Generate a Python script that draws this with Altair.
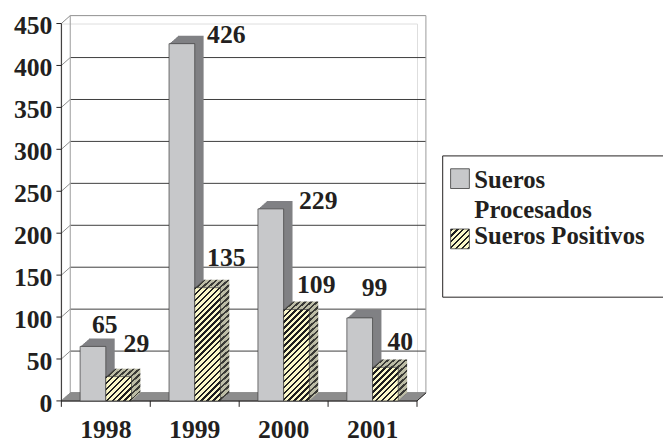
import altair as alt
import pandas as pd

# ---------------- data ----------------
years = ["1998", "1999", "2000", "2001"]
procesados = [65, 426, 229, 99]
positivos = [29, 135, 109, 40]
y_ticks = [0, 50, 100, 150, 200, 250, 300, 350, 400, 450]
series_names = ["Sueros Procesados", "Sueros Positivos"]

# ---------------- layout / style ----------------
W, H = 360, 382
YMAX = 450
DX, DY = 9, 8          # 3-D depth offset
NSTEP = 9
BAR = 26
BAND = W / len(years)
FONT = "Liberation Serif"
FS = 26
LFS = 25
INK = "#231f20"
GRAY_FRONT = "#c7c8ca"
GRAY_SIDE = "#808184"
HATCH_BASE = "#fbf8c9"
HATCH_SIDE = "#bdbda6"
FLOOR = "#8c8c8c"

# label nudges (dx from band centre, dy from bar top)
nudge_proc = {"1998": (-1, -14), "1999": (32, -1), "2000": (35, 0), "2001": (2, -22)}
nudge_pos = {"1998": (31, -25), "1999": (32, -22), "2000": (33, -17), "2001": (28, -18)}

xs = alt.Scale(domain=years, paddingInner=0, paddingOuter=0)
ys = alt.Scale(domain=[0, YMAX], nice=False, zero=True)

df_proc = pd.DataFrame({"year": years, "value": procesados})
df_pos = pd.DataFrame({"year": years, "value": positivos})
df_ticks = pd.DataFrame({"v": y_ticks})
df_grid = pd.DataFrame({"v": y_ticks[:-1]})
df_top = pd.DataFrame({"v": y_ticks[-1:]})
df_zero = pd.DataFrame({"v": [y_ticks[0]], "top": [y_ticks[-1]]})


def hatch(w, h, base, line, period=6.0, frac=0.42):
    L = w * w + h * h
    total = w + h
    def t(s):
        return max(0.0, min(1.0, s * w / L))
    stops = []
    n = 0
    while n * period < total + period:
        s0 = n * period
        s1 = s0 + frac * period
        s2 = s0 + period
        stops += [(t(s0), line), (t(s1), line), (t(s1), base), (t(s2), base)]
        n += 1
    return alt.LinearGradient(
        gradient="linear",
        stops=[alt.GradientStop(color=c, offset=o) for o, c in stops],
        x1=0, y1=0, x2=1, y2=h / w,
    )


YQ = alt.Y("v:Q", scale=ys, axis=None)
XB = alt.X("year:N", scale=xs, axis=None)
YB = alt.Y("value:Q", scale=ys, axis=None)
layers = []

# back wall grid lines
layers.append(
    alt.Chart(df_grid).mark_rule(color="#3c3c3c", strokeWidth=1, yOffset=-DY).encode(
        y=YQ, x=alt.value(DX), x2=alt.value(W + DX)
    )
)
layers.append(
    alt.Chart(df_top).mark_rule(color="#8f8f8f", strokeWidth=1, yOffset=-DY).encode(
        y=YQ, x=alt.value(DX), x2=alt.value(W + DX)
    )
)
# side wall diagonals
layers.append(
    alt.Chart(df_ticks).mark_rule(color="#8a8a8a", strokeWidth=1, y2Offset=-DY).encode(
        y=YQ, y2="v:Q", x=alt.value(0), x2=alt.value(DX)
    )
)
# back wall vertical edges
for xv in (DX, W + DX):
    layers.append(
        alt.Chart(df_zero).mark_rule(color="#9a9a9a", strokeWidth=1, yOffset=-DY, y2Offset=-DY).encode(
            y=YQ, y2="top:Q", x=alt.value(xv)
        )
    )
# floor
for k in range(NSTEP + 1):
    off = k / NSTEP
    layers.append(
        alt.Chart(df_zero).mark_rule(color=FLOOR, strokeWidth=1.6, yOffset=-DY * off).encode(
            y=YQ, x=alt.value(DX * off), x2=alt.value(W + DX * off)
        )
    )
layers.append(
    alt.Chart(df_zero).mark_rule(color=INK, strokeWidth=1).encode(
        y=YQ, x=alt.value(0), x2=alt.value(W)
    )
)
layers.append(
    alt.Chart(df_zero).mark_rule(color=INK, strokeWidth=1, y2Offset=-DY).encode(
        y=YQ, y2="v:Q", x=alt.value(W), x2=alt.value(W + DX)
    )
)
# category ticks at band edges
layers.append(
    alt.Chart(df_proc).mark_rule(color=INK, strokeWidth=1, xOffset=-BAND / 2).encode(
        x=XB, y=alt.value(H), y2=alt.value(H + 6)
    )
)
layers.append(
    alt.Chart(df_proc.tail(1)).mark_rule(color=INK, strokeWidth=1, xOffset=BAND / 2).encode(
        x=XB, y=alt.value(H), y2=alt.value(H + 6)
    )
)

# y axis (front), drawn from the tick values through the y scale
layers.append(
    alt.Chart(df_zero).mark_rule(color=INK, strokeWidth=1).encode(
        y=YQ, y2="top:Q", x=alt.value(0)
    )
)
layers.append(
    alt.Chart(df_ticks).mark_rule(color=INK, strokeWidth=1).encode(
        y=YQ, x=alt.value(-5), x2=alt.value(0)
    )
)
layers.append(
    alt.Chart(df_ticks).mark_text(
        font=FONT, fontWeight="bold", fontSize=FS, color=INK, align="right", baseline="middle", dy=3,
    ).encode(y=YQ, x=alt.value(-9), text="v:Q")
)
# x labels
layers.append(
    alt.Chart(df_proc).mark_text(
        font=FONT, fontWeight="bold", fontSize=FS, color=INK, align="center", baseline="alphabetic",
    ).encode(x=XB, y=alt.value(H + 38), text="year:N")
)

# gray bars (Sueros Procesados)
for k in range(NSTEP, 0, -1):
    off = k / NSTEP
    layers.append(
        alt.Chart(df_proc).mark_bar(
            size=BAR, color=GRAY_SIDE,
            xOffset=-BAR / 2 + DX * off, x2Offset=-BAR / 2 + DX * off,
            yOffset=-DY * off, y2Offset=-DY * off,
        ).encode(x=XB, y=YB)
    )
layers.append(
    alt.Chart(df_proc).mark_bar(
        size=BAR, fill=GRAY_FRONT, stroke="#3a3a3a", strokeWidth=0.7,
        xOffset=-BAR / 2, x2Offset=-BAR / 2,
    ).encode(x=XB, y=YB)
)

# hatched bars (Sueros Positivos), one gradient per bar
for yr, val in zip(years, positivos):
    h = val * H / YMAX
    d = df_pos[df_pos["year"] == yr]
    side = hatch(BAR, h, HATCH_SIDE, "#3a3a36")
    front = hatch(BAR, h, HATCH_BASE, "#1e1e1e")
    for k in range(NSTEP, 0, -1):
        off = k / NSTEP
        layers.append(
            alt.Chart(d).mark_bar(
                size=BAR, fill=side,
                xOffset=BAR / 2 + DX * off, x2Offset=BAR / 2 + DX * off,
                yOffset=-DY * off, y2Offset=-DY * off,
            ).encode(x=XB, y=YB)
        )
    layers.append(
        alt.Chart(d).mark_bar(
            size=BAR, fill=front, stroke="#3a3a3a", strokeWidth=0.7,
            xOffset=BAR / 2, x2Offset=BAR / 2,
        ).encode(x=XB, y=YB)
    )

# value labels
for df, nudge in ((df_proc, nudge_proc), (df_pos, nudge_pos)):
    for yr in years:
        dx, dy = nudge[yr]
        layers.append(
            alt.Chart(df[df["year"] == yr]).mark_text(
                font=FONT, fontWeight="bold", fontSize=FS, color=INK,
                align="center", baseline="alphabetic", dx=dx, dy=dy,
            ).encode(x=XB, y=YB, text="value:Q")
        )

# legend (drawn)
LX, LY = 386, 134
leg = pd.DataFrame({"a": [0]})
layers.append(
    alt.Chart(leg).mark_rect(fill="white", stroke=INK, strokeWidth=1).encode(
        x=alt.value(LX), x2=alt.value(LX + 320), y=alt.value(LY), y2=alt.value(LY + 143)
    )
)
layers.append(
    alt.Chart(leg).mark_rect(fill=GRAY_FRONT, stroke="#3a3a3a", strokeWidth=0.8).encode(
        x=alt.value(LX + 8), x2=alt.value(LX + 27), y=alt.value(LY + 13), y2=alt.value(LY + 33)
    )
)
layers.append(
    alt.Chart(leg).mark_rect(fill=hatch(19, 20, HATCH_BASE, "#1e1e1e"), stroke="#3a3a3a", strokeWidth=0.8).encode(
        x=alt.value(LX + 8), x2=alt.value(LX + 27), y=alt.value(LY + 74), y2=alt.value(LY + 94)
    )
)
leg_lines = ["Sueros", "Procesados", series_names[1]]
leg_text = pd.DataFrame({"t": leg_lines, "row": [0, 1, 2]})
for i in range(3):
    layers.append(
        alt.Chart(leg_text[leg_text["row"] == i]).mark_text(
            font=FONT, fontWeight="bold", fontSize=LFS, color=INK, align="left", baseline="alphabetic",
        ).encode(
            x=alt.value(LX + 32), y=alt.value([LY + 32, LY + 63, LY + 89][i]), text="t:N"
        )
    )

chart = alt.layer(*layers).properties(
    width=W, height=H,
    autosize=alt.AutoSizeParams(type="none"),
    padding={"left": 54, "top": 13, "right": 249, "bottom": 50},
).configure_view(stroke=None).configure(background="white")

chart.save("out.html", embed_options={"renderer": "svg", "actions": False})
